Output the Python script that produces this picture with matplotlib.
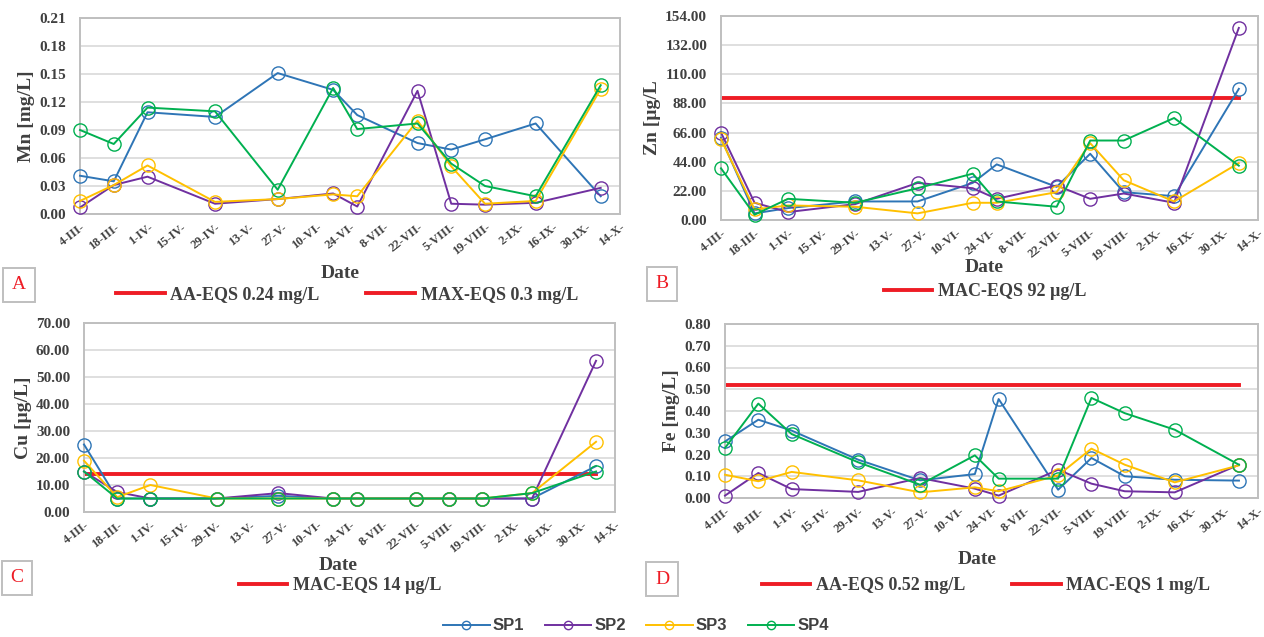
import matplotlib
matplotlib.use("Agg")
import matplotlib.pyplot as plt
from matplotlib.lines import Line2D

# sampling days counted from 4 March
days = [0, 14, 28, 56, 82, 105, 115, 140, 154, 168, 189, 216]
tick_days = list(range(0, 225, 14))
tick_labels = ["4-III-", "18-III-", "1-IV-", "15-IV-", "29-IV-", "13-V-", "27-V-",
               "10-VI-", "24-VI-", "8-VII-", "22-VII-", "5-VIII-", "19-VIII-",
               "2-IX-", "16-IX-", "30-IX-", "14-X-"]

series_names = ["SP1", "SP2", "SP3", "SP4"]
colors = ["#2E75B6", "#7030A0", "#FFC000", "#00B050"]

mn_sp1 = [0.041, 0.035, 0.109, 0.104, 0.151, 0.133, 0.106, 0.076, 0.069, 0.080, 0.097, 0.019]
mn_sp2 = [0.007, 0.031, 0.040, 0.011, 0.016, 0.022, 0.008, 0.132, 0.011, 0.010, 0.012, 0.028]
mn_sp3 = [0.014, 0.031, 0.052, 0.013, 0.016, 0.021, 0.019, 0.100, 0.051, 0.011, 0.014, 0.134]
mn_sp4 = [0.090, 0.075, 0.114, 0.110, 0.026, 0.135, 0.091, 0.097, 0.054, 0.030, 0.019, 0.138]

zn_sp1 = [62, 5, 9, 14, 14, 28, 42, 25, 50, 21, 18, 99]
zn_sp2 = [66, 13, 6, 12, 28, 24, 16, 26, 16, 20, 13, 145]
zn_sp3 = [61, 8, 11, 10, 5, 13, 13, 21, 58, 30, 14, 43]
zn_sp4 = [39, 4, 16, 13, 24, 35, 14, 10, 60, 60, 77, 41]

cu_sp1 = [25, 5, 5, 5, 6, 5, 5, 5, 5, 5, 5, 17]
cu_sp2 = [15, 7.4, 5, 5, 7, 5, 5, 5, 5, 5, 5, 56]
cu_sp3 = [19, 5.5, 10, 5, 5, 5, 5, 5, 5, 5, 7, 26]
cu_sp4 = [15, 5, 5, 5, 5, 5, 5, 5, 5, 5, 7, 15]

fe_sp1 = [0.26, 0.36, 0.31, 0.176, 0.081, 0.11, 0.455, 0.038, 0.184, 0.10, 0.084, 0.08]
fe_sp2 = [0.011, 0.115, 0.041, 0.028, 0.092, 0.043, 0.011, 0.13, 0.066, 0.031, 0.026, 0.153]
fe_sp3 = [0.107, 0.077, 0.12, 0.081, 0.026, 0.049, 0.031, 0.104, 0.227, 0.153, 0.072, 0.15]
fe_sp4 = [0.23, 0.434, 0.294, 0.164, 0.061, 0.196, 0.089, 0.089, 0.46, 0.39, 0.314, 0.153]

W, H = 1264, 637
SERIF = "Liberation Serif"
TXT = "#404040"


def rect(l, t, r, b):
    return [l / W, 1 - b / H, (r - l) / W, (b - t) / H]


def draw_panel(fig, box, data, ylabel, ymax, ystep, limits, limit_labels,
               letter, letter_xy, leg_xy, date_xy):
    ax = fig.add_axes(rect(*box))
    for vals, c in zip(data, colors):
        ax.plot(days, vals, color=c, lw=1.4, marker="o", ms=9.5, mfc="none",
                mec=c, mew=1.0, clip_on=False, zorder=3)
    handles = []
    for lim, lab in zip(limits, limit_labels):
        h, = ax.plot([days[0], days[-1]], [lim, lim], color="#EE1C25", lw=2.8,
                     label=lab, zorder=2)
        handles.append(h)
    ax.set_xlim(0, 224)
    ax.set_ylim(0, ymax)
    n = int(round(ymax / ystep))
    ticks = [i * ystep for i in range(n + 1)]
    ax.set_yticks(ticks)
    ax.set_yticklabels(["{:.2f}".format(t) for t in ticks], fontfamily=SERIF,
                       fontweight="bold", fontsize=11, color=TXT)
    ax.set_xticks(tick_days)
    ax.set_xticklabels(tick_labels, rotation=38, ha="right", rotation_mode="anchor",
                       fontfamily=SERIF, fontweight="bold", fontsize=8.8, color=TXT)
    ax.tick_params(axis="y", length=0, pad=10)
    ax.tick_params(axis="x", length=0, pad=5)
    ax.grid(axis="y", color="#D9D9D9", lw=1.2)
    ax.set_axisbelow(True)
    for s in ax.spines.values():
        s.set_color("#BFBFBF")
        s.set_linewidth(1.4)
    ax.set_ylabel(ylabel, fontfamily=SERIF, fontweight="bold", fontsize=14,
                  color=TXT, labelpad=3)
    fig.text(date_xy[0] / W, 1 - date_xy[1] / H, "Date", ha="center", va="center",
             fontfamily=SERIF, fontweight="bold", fontsize=14, color=TXT)
    fig.text(letter_xy[0] / W, 1 - letter_xy[1] / H, letter, ha="center", va="center",
             color="#EE1C25", fontfamily=SERIF, fontsize=14,
             bbox=dict(boxstyle="square,pad=0.45", fc="white", ec="#BFBFBF", lw=1.4))
    fig.legend(handles=handles, loc="center",
               bbox_to_anchor=(leg_xy[0] / W, 1 - leg_xy[1] / H),
               ncol=len(handles), frameon=False, handlelength=2.7,
               columnspacing=2.6, handletextpad=0.3, labelcolor=TXT,
               prop=dict(family=SERIF, weight="bold", size=13))
    return ax


fig = plt.figure(figsize=(W / 100, H / 100), dpi=100)

draw_panel(fig, (80, 18, 620, 214), [mn_sp1, mn_sp2, mn_sp3, mn_sp4],
           "Mn [mg/L]", 0.21, 0.03, [0.24, 0.3],
           ["AA-EQS 0.24 mg/L", "MAX-EQS 0.3 mg/L"], "A", (19, 285), (347, 295), (340, 273))

draw_panel(fig, (721, 16, 1258, 220), [zn_sp1, zn_sp2, zn_sp3, zn_sp4],
           "Zn [µg/L", 154, 22, [92],
           ["MAC-EQS 92 µg/L"], "B", (662, 284), (985, 292), (984, 268))

draw_panel(fig, (84, 323, 615, 512), [cu_sp1, cu_sp2, cu_sp3, cu_sp4],
           "Cu [µg/L]", 70, 10, [14],
           ["MAC-EQS 14 µg/L"], "C", (17, 578), (340, 586), (338, 565))

draw_panel(fig, (725, 324, 1258, 498), [fe_sp1, fe_sp2, fe_sp3, fe_sp4],
           "Fe [mg/L]", 0.8, 0.1, [0.52, 1.0],
           ["AA-EQS 0.52 mg/L", "MAC-EQS 1 mg/L"], "D", (662, 579), (986, 586), (977, 559))

sp_handles = [Line2D([], [], color=c, lw=1.4, marker="o", ms=6, mfc="none", mec=c,
                     mew=1.0, label=n) for n, c in zip(series_names, colors)]
fig.legend(handles=sp_handles, loc="center", bbox_to_anchor=(636 / W, 1 - 626 / H),
           ncol=4, frameon=False, handlelength=2.8, columnspacing=1.2,
           handletextpad=0.2, labelcolor=TXT,
           prop=dict(family="Liberation Sans", weight="bold", size=12))

fig.savefig("out.png", dpi=100)
